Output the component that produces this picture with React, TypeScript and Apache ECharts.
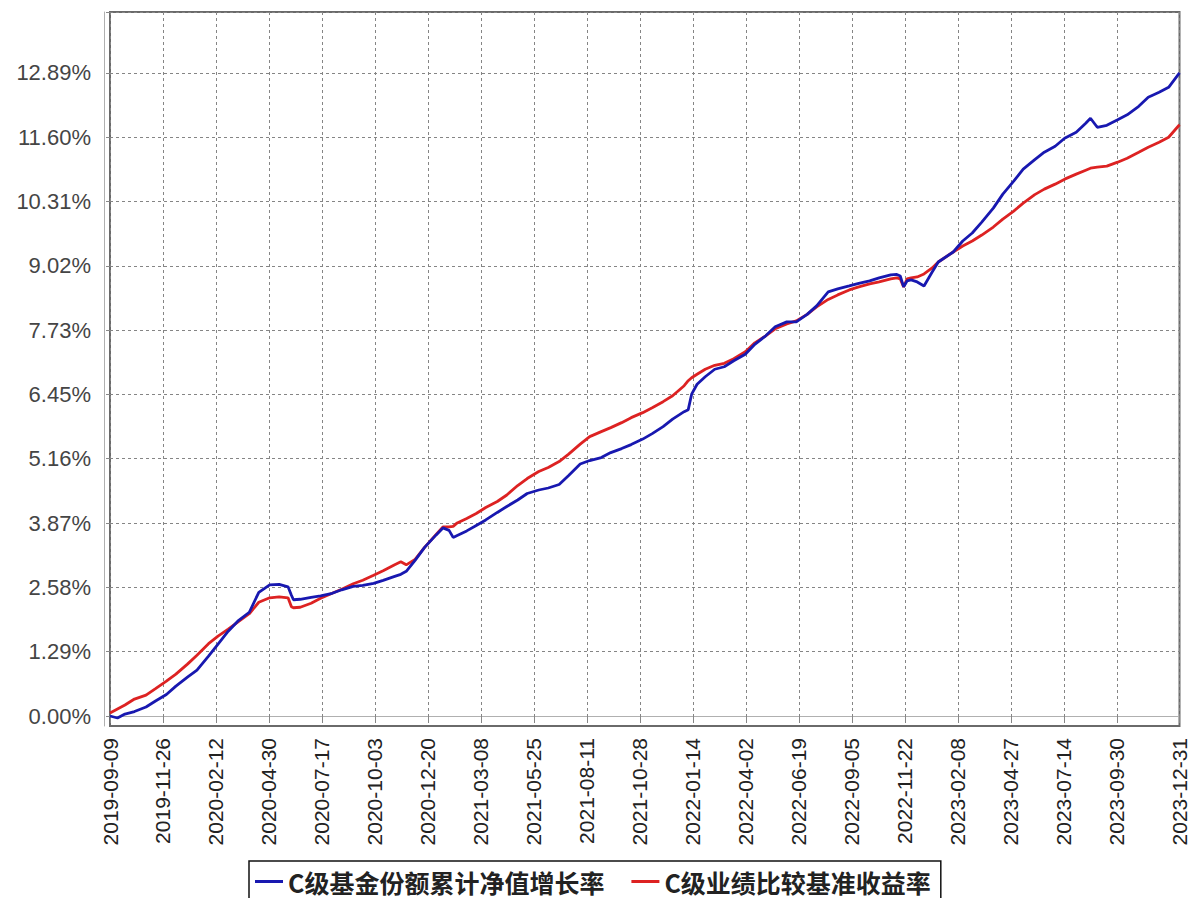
import React, { useEffect, useRef } from "react";
import * as echarts from "echarts";

const seriesNames = ["C级基金份额累计净值增长率", "C级业绩比较基准收益率"];

const sampleDates = [
  "2019-09-09", "2019-09-20", "2019-10-01", "2019-10-15", "2019-11-01", "2019-11-15",
  "2019-12-01", "2019-12-15", "2020-01-01", "2020-01-15", "2020-02-01", "2020-02-15",
  "2020-03-01", "2020-03-15", "2020-04-01", "2020-04-15", "2020-05-01", "2020-05-15",
  "2020-05-28", "2020-06-02", "2020-06-05", "2020-06-15", "2020-07-01", "2020-07-15",
  "2020-08-01", "2020-08-15", "2020-09-01", "2020-09-15", "2020-10-01", "2020-10-15",
  "2020-11-01", "2020-11-10", "2020-11-18", "2020-12-01", "2020-12-15", "2021-01-01",
  "2021-01-11", "2021-01-20", "2021-01-26", "2021-02-01", "2021-02-15", "2021-03-01",
  "2021-03-15", "2021-04-01", "2021-04-15", "2021-05-01", "2021-05-15", "2021-06-01",
  "2021-06-15", "2021-07-01", "2021-07-15", "2021-08-01", "2021-08-15", "2021-09-01",
  "2021-09-15", "2021-10-01", "2021-10-15", "2021-11-01", "2021-11-15", "2021-12-01",
  "2021-12-15", "2022-01-01", "2022-01-07", "2022-01-12", "2022-01-20", "2022-02-01",
  "2022-02-15", "2022-03-01", "2022-03-15", "2022-04-01", "2022-04-15", "2022-05-01",
  "2022-05-15", "2022-06-01", "2022-06-15", "2022-07-01", "2022-07-15", "2022-08-01",
  "2022-08-15", "2022-09-01", "2022-09-15", "2022-10-01", "2022-10-15", "2022-11-01",
  "2022-11-10", "2022-11-15", "2022-11-20", "2022-11-25", "2022-12-01", "2022-12-10",
  "2022-12-20", "2023-01-01", "2023-01-10", "2023-02-01", "2023-02-15", "2023-03-01",
  "2023-03-15", "2023-04-01", "2023-04-15", "2023-05-01", "2023-05-15", "2023-06-01",
  "2023-06-15", "2023-07-01", "2023-07-15", "2023-08-01", "2023-08-15", "2023-08-22",
  "2023-09-01", "2023-09-15", "2023-10-01", "2023-10-15", "2023-11-01", "2023-11-15",
  "2023-12-01", "2023-12-15", "2023-12-31",
];

const fundReturn = [
  0.0, -0.04, 0.04, 0.09, 0.18, 0.3,
  0.43, 0.6, 0.78, 0.92, 1.2, 1.44,
  1.7, 1.9, 2.08, 2.48, 2.63, 2.64,
  2.59, 2.42, 2.33, 2.34, 2.38, 2.41,
  2.46, 2.53, 2.6, 2.62, 2.66, 2.72,
  2.8, 2.84, 2.9, 3.12, 3.38, 3.63,
  3.77, 3.72, 3.58, 3.62, 3.71, 3.82,
  3.93, 4.08, 4.2, 4.33, 4.46, 4.53,
  4.57, 4.64, 4.82, 5.05, 5.12, 5.18,
  5.28, 5.36, 5.44, 5.55, 5.66, 5.8,
  5.95, 6.1, 6.14, 6.45, 6.65, 6.8,
  6.95, 7.0, 7.12, 7.25, 7.45, 7.62,
  7.8, 7.9, 7.9, 8.05, 8.22, 8.5,
  8.56, 8.62, 8.67, 8.72, 8.78, 8.84,
  8.85, 8.82, 8.6, 8.72, 8.74, 8.7,
  8.62, 8.9, 9.1, 9.3, 9.52, 9.68,
  9.9, 10.18, 10.46, 10.72, 10.96, 11.15,
  11.3, 11.42, 11.58, 11.7, 11.88, 11.98,
  11.8, 11.84, 11.95, 12.05, 12.22, 12.4,
  12.5, 12.6, 12.89,
];

const benchmarkReturn = [
  0.06, 0.14, 0.22, 0.34, 0.42, 0.55,
  0.7, 0.84, 1.04, 1.22, 1.45, 1.6,
  1.74, 1.88, 2.05, 2.28, 2.37, 2.39,
  2.37, 2.19, 2.17, 2.18, 2.26, 2.36,
  2.46, 2.54, 2.65, 2.72, 2.82, 2.91,
  3.03, 3.09, 3.03, 3.14, 3.38, 3.64,
  3.79, 3.79, 3.8, 3.87, 3.96, 4.06,
  4.18, 4.3, 4.43, 4.62, 4.76, 4.9,
  4.98, 5.1, 5.25, 5.45, 5.6, 5.7,
  5.78, 5.88, 5.98, 6.08, 6.18, 6.3,
  6.42, 6.62, 6.72, 6.78, 6.85, 6.95,
  7.03, 7.07, 7.16, 7.3, 7.48, 7.62,
  7.76, 7.86, 7.92, 8.05, 8.2, 8.35,
  8.44, 8.54, 8.6, 8.66, 8.7, 8.76,
  8.78, 8.76, 8.6, 8.76, 8.78, 8.8,
  8.86, 8.98, 9.1, 9.3, 9.42, 9.52,
  9.64, 9.8, 9.96, 10.12, 10.28, 10.45,
  10.56, 10.66, 10.76, 10.86, 10.94, 10.98,
  11.0, 11.02, 11.1, 11.18, 11.3, 11.4,
  11.5, 11.6, 11.85,
];

const xTickLabels = [
  "2019-09-09", "2019-11-26", "2020-02-12", "2020-04-30", "2020-07-17", "2020-10-03",
  "2020-12-20", "2021-03-08", "2021-05-25", "2021-08-11", "2021-10-28", "2022-01-14",
  "2022-04-02", "2022-06-19", "2022-09-05", "2022-11-22", "2023-02-08", "2023-04-27",
  "2023-07-14", "2023-09-30", "2023-12-31",
];

const yTickLabels = [
  "0.00%", "1.29%", "2.58%", "3.87%", "5.16%", "6.45%",
  "7.73%", "9.02%", "10.31%", "11.60%", "12.89%",
];

const Y_STEP = 1.289;
const Y_TOP = 14.11;
const Y_BOTTOM = -0.2;

function buildDays(start: string, end: string): string[] {
  const [sy, sm, sd] = start.split("-").map(Number);
  const [ey, em, ed] = end.split("-").map(Number);
  const s = Date.UTC(sy, sm - 1, sd);
  const e = Date.UTC(ey, em - 1, ed);
  const out: string[] = [];
  for (let t = s; t <= e; t += 86400000) {
    out.push(new Date(t).toISOString().slice(0, 10));
  }
  return out;
}

export default function App() {
  const ref = useRef<HTMLDivElement>(null);

  useEffect(() => {
    if (!ref.current) return;
    const chart = echarts.init(ref.current, null, { renderer: "svg" });
    const days = buildDays(xTickLabels[0], xTickLabels[xTickLabels.length - 1]);
    const tickSet = new Set(xTickLabels);
    const showTick = (_i: number, v: string) => tickSet.has(v);

    const fundData = sampleDates.map((d, i) => [d, fundReturn[i]]);
    const benchData = sampleDates.map((d, i) => [d, benchmarkReturn[i]]);

    const dashed = { color: "#858585", width: 1, type: [3, 3] as any };

    chart.setOption({
      animation: false,
      backgroundColor: "#ffffff",
      grid: [
        {
          left: 110,
          right: 10,
          top: 12,
          bottom: 172,
          show: true,
          backgroundColor: "transparent",
          borderColor: "#6a6a6a",
          borderWidth: 2,
        },
        {
          left: 110,
          right: 10,
          top: 12,
          bottom: 182,
          show: false,
        },
      ],
      xAxis: [
        {
          type: "category",
          gridIndex: 0,
          data: days,
          boundaryGap: false,
          offset: 7,
          axisLine: { show: true, lineStyle: { color: "#b0b0b0", width: 1 } },
          axisTick: { show: true, interval: showTick, length: 4, lineStyle: { color: "#888" } },
          axisLabel: {
            show: true,
            interval: showTick,
            rotate: 90,
            margin: 5,
            fontFamily: "Liberation Sans",
            fontSize: 21,
            color: "#222",
          },
          splitLine: { show: true, interval: showTick, lineStyle: dashed },
        },
        {
          type: "value",
          gridIndex: 1,
          min: 0,
          max: 1,
          show: false,
        },
      ],
      yAxis: [
        {
          type: "value",
          gridIndex: 0,
          min: Y_BOTTOM,
          max: Y_TOP,
          offset: 6,
          axisLine: { show: true, lineStyle: { color: "#b0b0b0", width: 1 } },
          axisTick: { show: false },
          axisLabel: { show: false },
          splitLine: { show: false },
        },
        {
          type: "value",
          gridIndex: 1,
          min: 0,
          max: Y_TOP,
          interval: Y_STEP,
          offset: 6,
          axisLine: { show: false },
          axisTick: { show: true, length: 4, lineStyle: { color: "#888" } },
          axisLabel: {
            margin: 13,
            fontFamily: "Liberation Sans",
            fontSize: 22,
            color: "#454545",
            formatter: (v: number) => {
              const idx = Math.round(v / Y_STEP);
              if (Math.abs(v - idx * Y_STEP) > 0.01) return "";
              return yTickLabels[idx] ?? "";
            },
          },
          splitLine: { show: true, lineStyle: dashed },
        },
      ],
      legend: {
        data: seriesNames,
        left: 249,
        top: 861,
        orient: "horizontal",
        icon: "rect",
        itemWidth: 28,
        itemHeight: 3,
        itemGap: 27,
        padding: [8, 10, 20, 6],
        borderColor: "#111",
        borderWidth: 1.5,
        backgroundColor: "#fff",
        textStyle: {
          fontFamily: "Noto Sans CJK SC",
          fontSize: 25,
          fontWeight: "bold",
          color: "#222",
        },
      },
      series: [
        {
          name: seriesNames[1],
          type: "line",
          xAxisIndex: 0,
          yAxisIndex: 0,
          data: benchData,
          showSymbol: false,
          symbol: "none",
          lineStyle: { color: "#dd2222", width: 2.8 },
          itemStyle: { color: "#dd2222" },
        },
        {
          name: seriesNames[0],
          type: "line",
          xAxisIndex: 0,
          yAxisIndex: 0,
          data: fundData,
          showSymbol: false,
          symbol: "none",
          lineStyle: { color: "#1818b0", width: 2.8 },
          itemStyle: { color: "#1818b0" },
        },
      ],
    });
    return () => chart.dispose();
  }, []);

  return (
    <div
      ref={ref}
      style={{ position: "absolute", left: 0, top: 0, width: 1190, height: 898 }}
    />
  );
}
